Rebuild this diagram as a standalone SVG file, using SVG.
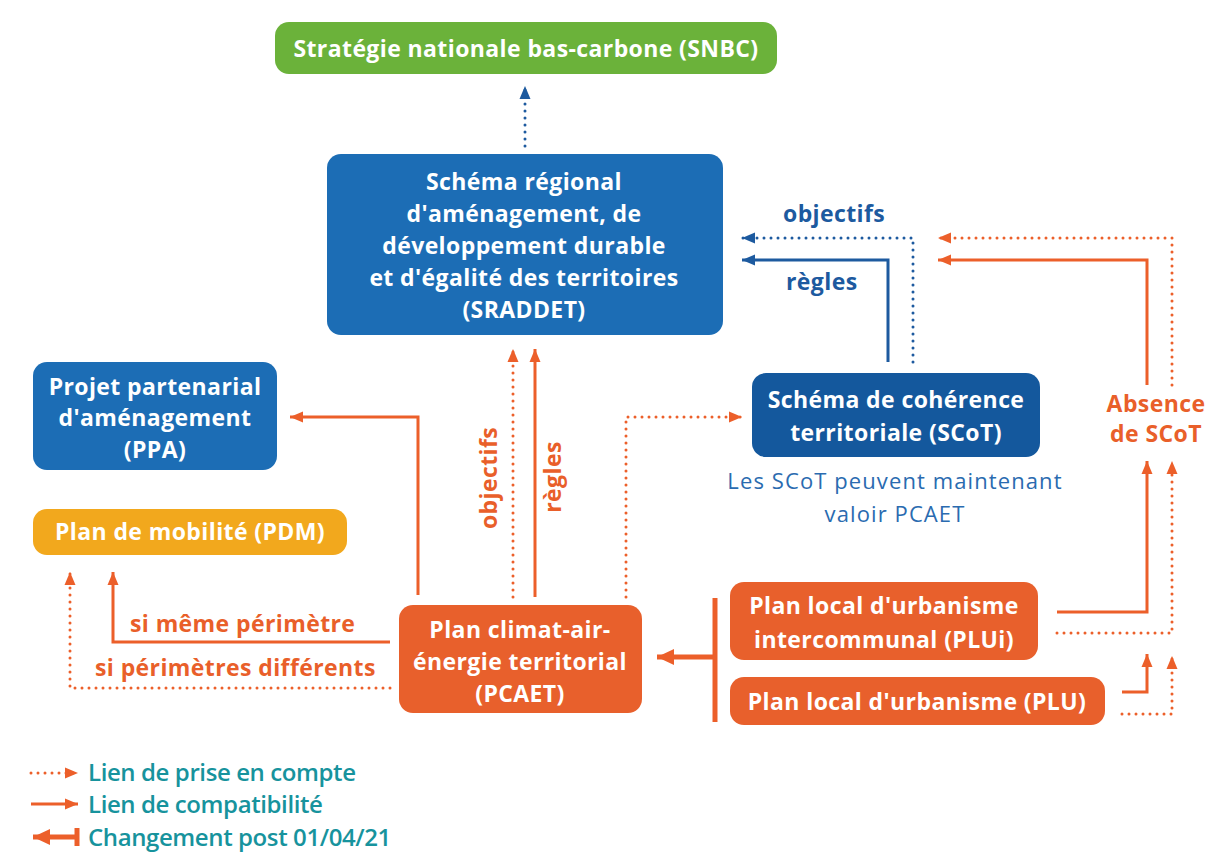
<svg xmlns="http://www.w3.org/2000/svg" width="1212" height="861" viewBox="0 0 1212 861">
  <style>
    .box-text { font-family: "Open Sans", "Liberation Sans", sans-serif; font-weight: 700; font-size: 23px; letter-spacing: 0.4px; fill: #ffffff; text-anchor: middle; }
    .lbl-o { font-family: "Open Sans", "Liberation Sans", sans-serif; font-weight: 700; font-size: 23px; letter-spacing: 0.4px; fill: #e95f2a; }
    .lbl-b { font-family: "Open Sans", "Liberation Sans", sans-serif; font-weight: 700; font-size: 23px; letter-spacing: 0.4px; fill: #1d5a9f; }
    .note { font-family: "Open Sans", "Liberation Sans", sans-serif; font-weight: 400; font-size: 22px; letter-spacing: 1.1px; fill: #2a6bb0; text-anchor: middle; }
    .legend { font-family: "Open Sans", "Liberation Sans", sans-serif; font-weight: 600; font-size: 24px; fill: #17939d; letter-spacing: -0.4px; }
    .solid-o { fill: none; stroke: #ec5f2a; stroke-width: 3; }
    .dot-o { fill: none; stroke: #ec5f2a; stroke-width: 3; stroke-linecap: round; stroke-dasharray: 0 7; }
    .solid-b { fill: none; stroke: #1d5a9f; stroke-width: 3; }
    .dot-b { fill: none; stroke: #1d5a9f; stroke-width: 3; stroke-linecap: round; stroke-dasharray: 0 7; }
  </style>
  <defs>
    <marker id="arrO" markerUnits="userSpaceOnUse" markerWidth="14" markerHeight="12" refX="13" refY="6" orient="auto">
      <path d="M0,0.5 L13,6 L0,11.5 z" fill="#ec5f2a"/>
    </marker>
    <marker id="arrB" markerUnits="userSpaceOnUse" markerWidth="14" markerHeight="12" refX="13" refY="6" orient="auto">
      <path d="M0,0.5 L13,6 L0,11.5 z" fill="#1d5a9f"/>
    </marker>
    <marker id="arrBig" markerUnits="userSpaceOnUse" markerWidth="18" markerHeight="16" refX="17" refY="8" orient="auto">
      <path d="M0,0 L17,8 L0,16 z" fill="#ec5f2a"/>
    </marker>
  </defs>

  <rect width="1212" height="861" fill="#ffffff"/>

  <!-- connectors -->
  <g id="connectors">
    <!-- SRADDET to SNBC -->
    <path class="dot-b" d="M525,146 L525,86" marker-end="url(#arrB)"/>
    <!-- SCoT to SRADDET -->
    <path class="dot-b" d="M913,362 L913,238 L742,238" marker-end="url(#arrB)"/>
    <path class="solid-b" d="M888,362 L888,260 L742,260" marker-end="url(#arrB)"/>
    <!-- Absence de SCoT to SRADDET -->
    <path class="dot-o" d="M1172,385 L1172,238 L938,238" marker-end="url(#arrO)"/>
    <path class="solid-o" d="M1147,385 L1147,260 L938,260" marker-end="url(#arrO)"/>
    <!-- PCAET to PPA -->
    <path class="solid-o" d="M418,595 L418,417 L290,417" marker-end="url(#arrO)"/>
    <!-- PCAET to SRADDET -->
    <path class="dot-o" d="M513,597 L513,349" marker-end="url(#arrO)"/>
    <path class="solid-o" d="M535,597 L535,349" marker-end="url(#arrO)"/>
    <!-- PCAET to SCoT -->
    <path class="dot-o" d="M626,597 L626,417 L742,417" marker-end="url(#arrO)"/>
    <!-- PCAET to PDM -->
    <path class="solid-o" d="M390,642 L113,642 L113,572" marker-end="url(#arrO)"/>
    <path class="dot-o" d="M390,688 L70,688 L70,572" marker-end="url(#arrO)"/>
    <!-- PLUi / PLU to Absence de SCoT -->
    <path class="solid-o" d="M1057,612 L1147,612 L1147,461" marker-end="url(#arrO)"/>
    <path class="dot-o" d="M1057,633 L1172,633 L1172,461" marker-end="url(#arrO)"/>
    <path class="solid-o" d="M1122,692 L1147,692 L1147,654" marker-end="url(#arrO)"/>
    <path class="dot-o" d="M1122,714 L1172,714 L1172,656" marker-end="url(#arrO)"/>
    <!-- PLUi / PLU to PCAET (post 01/04/21) -->
    <path fill="none" stroke="#ec5f2a" stroke-width="5" d="M715,598 L715,722"/>
    <path fill="none" stroke="#ec5f2a" stroke-width="5" d="M715,657 L657,657" marker-end="url(#arrBig)"/>
  </g>

  <!-- labels on connectors -->
  <g id="connector-labels">
    <text class="lbl-b" x="783" y="222">objectifs</text>
    <text class="lbl-b" x="786" y="290">règles</text>
    <text class="lbl-o" transform="translate(497,478) rotate(-90)" text-anchor="middle">objectifs</text>
    <text class="lbl-o" transform="translate(561,477) rotate(-90)" text-anchor="middle">règles</text>
    <text class="lbl-o" x="130" y="632">si même périmètre</text>
    <text class="lbl-o" x="95" y="676">si périmètres différents</text>
    <text class="lbl-o" x="1156" y="412" text-anchor="middle" font-size="22">Absence</text>
    <text class="lbl-o" x="1156" y="442" text-anchor="middle" font-size="22">de SCoT</text>
  </g>

  <g id="snbc">
    <rect x="275" y="22" width="502" height="52" rx="14" fill="#6bb23a"/>
    <text class="box-text" x="526" y="57">Stratégie nationale bas-carbone (SNBC)</text>
  </g>

  <g id="sraddet">
    <rect x="327" y="154" width="396" height="181" rx="14" fill="#1c6db5"/>
    <text class="box-text" x="524" y="190">Schéma régional</text>
    <text class="box-text" x="524" y="222">d'aménagement, de</text>
    <text class="box-text" x="524" y="254">développement durable</text>
    <text class="box-text" x="524" y="286">et d'égalité des territoires</text>
    <text class="box-text" x="524" y="318">(SRADDET)</text>
  </g>

  <g id="ppa">
    <rect x="33" y="362" width="244" height="108" rx="14" fill="#1c6db5"/>
    <text class="box-text" x="155" y="395">Projet partenarial</text>
    <text class="box-text" x="155" y="426">d'aménagement</text>
    <text class="box-text" x="155" y="458">(PPA)</text>
  </g>

  <g id="pdm">
    <rect x="33" y="509" width="314" height="46" rx="14" fill="#f2a81d"/>
    <text class="box-text" x="190" y="540">Plan de mobilité (PDM)</text>
  </g>

  <g id="scot">
    <rect x="752" y="373" width="288" height="84" rx="14" fill="#14589d"/>
    <text class="box-text" x="896" y="408">Schéma de cohérence</text>
    <text class="box-text" x="896" y="441">territoriale (SCoT)</text>
    <text class="note" x="895" y="489">Les SCoT peuvent maintenant</text>
    <text class="note" x="895" y="522">valoir PCAET</text>
  </g>

  <g id="pcaet">
    <rect x="399" y="605" width="243" height="108" rx="14" fill="#e8602c"/>
    <text class="box-text" x="520" y="638">Plan climat-air-</text>
    <text class="box-text" x="520" y="670">énergie territorial</text>
    <text class="box-text" x="520" y="702">(PCAET)</text>
  </g>

  <g id="plui">
    <rect x="730" y="582" width="308" height="78" rx="14" fill="#e8602c"/>
    <text class="box-text" x="884" y="614">Plan local d'urbanisme</text>
    <text class="box-text" x="884" y="648">intercommunal (PLUi)</text>
  </g>

  <g id="plu">
    <rect x="730" y="677" width="375" height="48" rx="14" fill="#e8602c"/>
    <text class="box-text" x="917" y="710">Plan local d'urbanisme (PLU)</text>
  </g>

  <!-- legend -->
  <g id="legend">
    <path class="dot-o" d="M31,773 L78,773" marker-end="url(#arrO)"/>
    <text class="legend" x="88" y="781">Lien de prise en compte</text>
    <path class="solid-o" d="M31,804 L78,804" marker-end="url(#arrO)"/>
    <text class="legend" x="88" y="813">Lien de compatibilité</text>
    <path fill="none" stroke="#ec5f2a" stroke-width="5" d="M77,828 L77,846"/>
    <path fill="none" stroke="#ec5f2a" stroke-width="5" d="M77,837 L33,837" marker-end="url(#arrBig)"/>
    <text class="legend" x="88" y="846">Changement post 01/04/21</text>
  </g>
</svg>
